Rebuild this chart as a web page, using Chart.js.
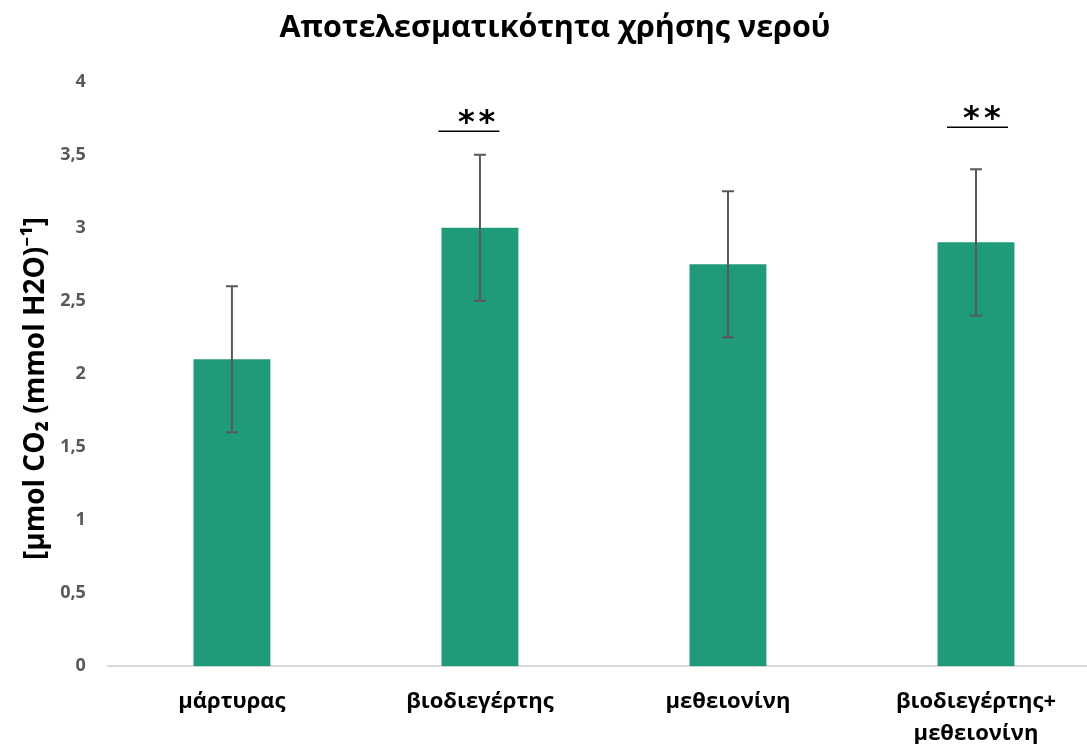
<!DOCTYPE html>
<html>
<head>
<meta charset="utf-8">
<script src="https://cdn.jsdelivr.net/npm/chart.js@4.4.1/dist/chart.umd.min.js"></script>
<style>
  html, body { margin: 0; padding: 0; background: #fff; overflow: hidden; }
  #wrap { width: 1100px; height: 744px; }
</style>
</head>
<body>
<div id="wrap"><canvas id="c" width="1100" height="744"></canvas></div>
<script>
// Treatments on the x axis
const categories = [
  'μάρτυρας',
  'βιοδιεγέρτης',
  'μεθειονίνη',
  ['βιοδιεγέρτης+', 'μεθειονίνη']
];
// Mean water-use efficiency per treatment
const efficiency = [2.1, 3.0, 2.75, 2.9];
// Symmetric error (± value) for each mean
const errorAmount = [0.5, 0.5, 0.5, 0.5];
// Significance marks above the bars
const significance = ['', '**', '', '**'];
// Y tick labels (decimal comma)
const yTickLabels = ['0', '0,5', '1', '1,5', '2', '2,5', '3', '3,5', '4'];

const FONT = "'Open Sans', 'Noto Sans', sans-serif";

// Error bars drawn through the y scale
const errorBarPlugin = {
  id: 'errorBars',
  afterDatasetsDraw(chart) {
    const { ctx, scales: { y } } = chart;
    const meta = chart.getDatasetMeta(0);
    ctx.save();
    ctx.strokeStyle = '#595959';
    ctx.lineWidth = 2;
    meta.data.forEach((bar, i) => {
      const cx = bar.x;
      const yHi = y.getPixelForValue(efficiency[i] + errorAmount[i]);
      const yLo = y.getPixelForValue(efficiency[i] - errorAmount[i]);
      const cap = 6;
      ctx.beginPath();
      ctx.moveTo(cx, yHi); ctx.lineTo(cx, yLo);
      ctx.moveTo(cx - cap, yHi); ctx.lineTo(cx + cap, yHi);
      ctx.moveTo(cx - cap, yLo); ctx.lineTo(cx + cap, yLo);
      ctx.stroke();
    });
    ctx.restore();
  }
};

// Significance asterisks over a short underline
const significancePlugin = {
  id: 'significance',
  afterDatasetsDraw(chart, args, opts) {
    const { ctx, scales: { y } } = chart;
    const meta = chart.getDatasetMeta(0);
    ctx.save();
    ctx.font = "bold 32px 'DejaVu Sans', sans-serif";
    ctx.textAlign = 'center';
    ctx.textBaseline = 'alphabetic';
    ctx.fillStyle = '#000';
    ctx.strokeStyle = '#000';
    ctx.lineWidth = 1.5;
    significance.forEach((mark, i) => {
      if (!mark) return;
      const lineY = Math.round(y.getPixelForValue(opts.levels[i])) + 0.25;
      const cx = meta.data[i].x + opts.shifts[i];
      ctx.beginPath();
      ctx.moveTo(cx - 30.5, lineY);
      ctx.lineTo(cx + 30.5, lineY);
      ctx.stroke();
      // centre each glyph 14.5px above the underline
      const m = ctx.measureText('*');
      const base = lineY - 14.5 + (m.actualBoundingBoxAscent - m.actualBoundingBoxDescent) / 2;
      mark.split('').forEach((ch, k) => {
        ctx.fillText(ch, cx + opts.starOffsets[i][k], base);
      });
    });
    ctx.restore();
  }
};

new Chart(document.getElementById('c'), {
  type: 'bar',
  data: {
    labels: categories,
    datasets: [{
      data: efficiency,
      backgroundColor: '#1f9b7a',
      borderWidth: 0,
      barPercentage: 0.62,
      categoryPercentage: 0.5
    }]
  },
  options: {
    responsive: false,
    animation: false,
    devicePixelRatio: 1,
    layout: { padding: { left: 10, right: 0, top: 0, bottom: -26 } },
    plugins: {
      legend: { display: false },
      tooltip: { enabled: false },
      title: {
        display: true,
        text: 'Αποτελεσματικότητα χρήσης νερού',
        color: '#000',
        font: { family: FONT, size: 30.5, weight: 'bold', lineHeight: 1.2 },
        padding: { top: 10, bottom: 35 }
      },
      significance: {
        levels: [null, 3.663, null, 3.686],
        shifts: [0, -11, 0, 1.5],
        starOffsets: [null, [-2.5, 18], null, [-6, 15]]
      }
    },
    scales: {
      x: {
        grid: { display: false, drawTicks: false },
        border: { display: true, color: '#d9d9d9', width: 2 },
        ticks: {
          color: '#000',
          font: { family: FONT, size: 22, weight: 'bold', lineHeight: 1.45 },
          padding: 20,
          maxRotation: 0,
          autoSkip: false
        }
      },
      y: {
        min: 0,
        max: 4,
        grid: { display: false, drawTicks: false },
        border: { display: false },
        ticks: {
          stepSize: 0.5,
          color: '#595959',
          font: { family: FONT, size: 18, weight: 'bold' },
          padding: 22,
          callback: (v, i) => yTickLabels[i]
        },
        title: {
          display: true,
          text: '[μmol CO₂ (mmol H2O)⁻¹]    ',
          color: '#000',
          font: { family: FONT, size: 28, weight: 'bold' },
          padding: { top: 9, bottom: -14.4 }
        }
      }
    }
  },
  plugins: [errorBarPlugin, significancePlugin]
});
</script>
</body>
</html>
